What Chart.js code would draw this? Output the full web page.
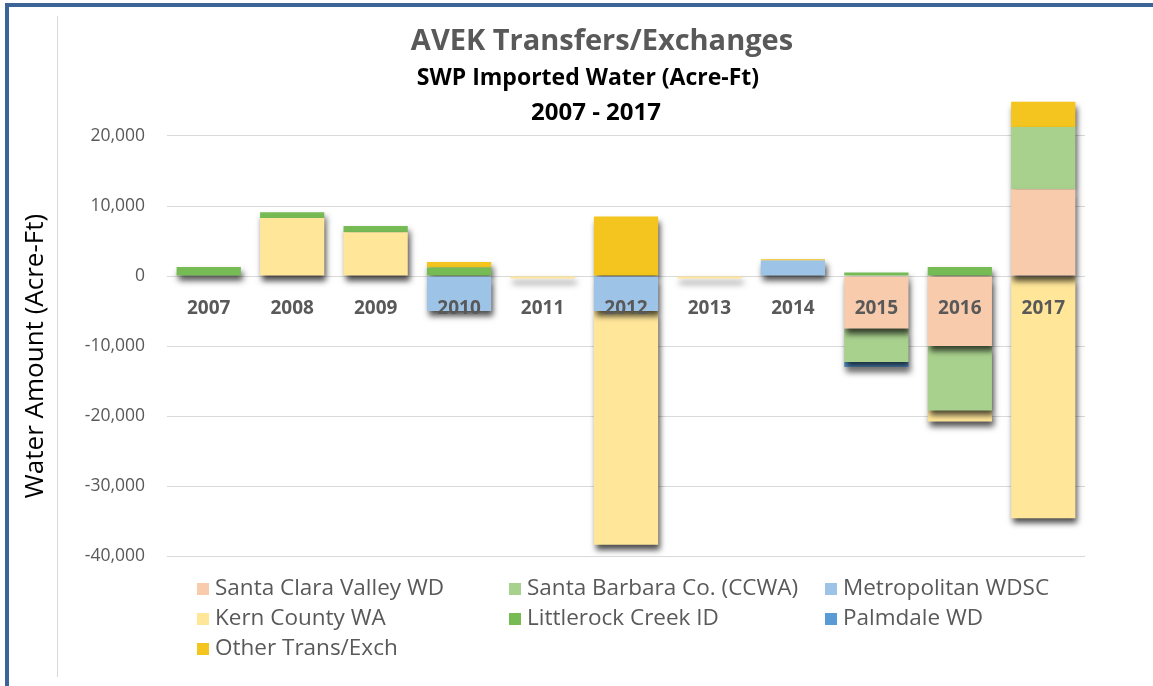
<!DOCTYPE html>
<html>
<head>
<meta charset="utf-8">
<script src="https://cdn.jsdelivr.net/npm/chart.js@4.4.1/dist/chart.umd.min.js"></script>
<style>
  html, body { margin: 0; padding: 0; background: #fff; }
  #wrap { position: relative; width: 1153px; height: 686px; }
</style>
</head>
<body>
<div id="wrap"><canvas id="myCanvas"></canvas></div>
<script>
// dati del grafico
let anni = ['2007', '2008', '2009', '2010', '2011', '2012', '2013', '2014', '2015', '2016', '2017'];

let santaClara   = [0, 0, 0, 0, 0, 0, 0, 0, -7500, -10000, 12400];
let santaBarbara = [0, 0, 0, 0, 0, 0, 0, 0, -4800, -9200, 8900];
let metropolitan = [0, 0, 0, -5000, 0, -5000, 0, 2200, 0, 0, 0];
let kern         = [0, 8300, 6250, 0, -350, -33400, -350, 0, 0, -1600, -34600];
let littlerock   = [1300, 800, 900, 1200, 0, 0, 0, 0, 500, 1300, 0];
let palmdale     = [0, 0, 0, 0, 0, 0, 0, 0, -700, 0, 0];
let altri        = [0, 0, 0, 800, 0, 8500, 0, 200, 0, 0, 3600];

let yTicks = [20000, 10000, 0, -10000, -20000, -30000, -40000];

let titolo = 'AVEK Transfers/Exchanges';
let sottotitolo = ['SWP Imported Water (Acre-Ft)', '2007 - 2017'];
let titoloY = 'Water Amount (Acre-Ft)';

const FONT = "'Open Sans', sans-serif";
Chart.defaults.font.family = FONT;

// ombra sotto le colonne, titoli, legenda e cornice
const decorazioni = {
    id: 'decorazioni',
    beforeDatasetsDraw(chart) {
        const ctx = chart.ctx;
        ctx.save();
        ctx.shadowColor = 'rgba(0,0,0,0.7)';
        ctx.shadowBlur = 6;
        ctx.shadowOffsetX = 2;
        ctx.shadowOffsetY = 5;
    },
    afterDatasetsDraw(chart) {
        chart.ctx.restore();
    },
    afterDraw(chart) {
        const ctx = chart.ctx;
        ctx.save();
        // cornice blu
        ctx.fillStyle = '#3C6496';
        ctx.fillRect(5, 3, 1148, 4);
        ctx.fillRect(5, 3, 4, 683);
        // linea grigia a sinistra
        ctx.fillStyle = '#D9D9D9';
        ctx.fillRect(57, 16, 1, 661);

        // titoli
        ctx.textAlign = 'center';
        ctx.textBaseline = 'middle';
        ctx.fillStyle = '#595959';
        ctx.font = 'bold 29px ' + FONT;
        ctx.fillText(titolo, 602, 42);
        ctx.fillStyle = '#000';
        ctx.font = 'bold 23px ' + FONT;
        ctx.fillText(sottotitolo[0], 588, 78);
        ctx.font = 'bold 24px ' + FONT;
        ctx.fillText(sottotitolo[1], 596, 113);

        // titolo asse y
        ctx.save();
        ctx.translate(36, 356);
        ctx.rotate(-Math.PI / 2);
        ctx.font = '26px ' + FONT;
        ctx.fillText(titoloY, 0, 0);
        ctx.restore();

        // legenda a tre colonne
        const colX = [197, 509, 825];
        const rowY = [589, 619, 649];
        ctx.textAlign = 'left';
        ctx.font = '22.5px ' + FONT;
        chart.data.datasets.forEach((ds, i) => {
            const x = colX[i % 3];
            const y = rowY[Math.floor(i / 3)];
            ctx.fillStyle = ds.backgroundColor;
            ctx.fillRect(x, y - 6, 12, 12);
            ctx.fillStyle = '#595959';
            ctx.fillText(ds.label, x + 18, y);
        });
        ctx.restore();
    }
};

let chart = new Chart(document.getElementById('myCanvas').getContext('2d'), {
    type: 'bar',
    data: {
        labels: anni,
        datasets: [
            { label: 'Santa Clara Valley WD', data: santaClara, backgroundColor: '#F8CBAD' },
            { label: 'Santa Barbara Co. (CCWA)', data: santaBarbara, backgroundColor: '#A9D18E' },
            { label: 'Metropolitan WDSC', data: metropolitan, backgroundColor: '#9DC3E6' },
            { label: 'Kern County WA', data: kern, backgroundColor: '#FFE699' },
            { label: 'Littlerock Creek ID', data: littlerock, backgroundColor: '#77BB55' },
            { label: 'Palmdale WD', data: palmdale, backgroundColor: '#5B9BD5' },
            { label: 'Other Trans/Exch', data: altri, backgroundColor: '#F4C51E' }
        ]
    },
    options: {
        responsive: true,
        maintainAspectRatio: false,
        animation: false,
        datasets: {
            bar: { barPercentage: 0.77, categoryPercentage: 1 }
        },
        layout: {
            padding: { top: 101, bottom: 130, left: 60, right: 68 }
        },
        plugins: {
            legend: { display: false },
            title: { display: false },
            tooltip: { enabled: false }
        },
        scales: {
            x: {
                stacked: true,
                position: { y: 0 },
                grid: { display: false, drawTicks: false },
                border: { display: false },
                ticks: {
                    z: 1,
                    padding: 21,
                    color: '#595959',
                    font: { size: 19, weight: 'bold' }
                }
            },
            y: {
                stacked: true,
                min: -40000,
                max: 25000,
                afterBuildTicks(scale) {
                    scale.ticks = yTicks.map(v => ({ value: v }));
                },
                afterFit(scale) {
                    scale.width = 107;
                },
                grid: { color: '#D9D9D9', lineWidth: 1, drawTicks: false },
                border: { display: false },
                ticks: {
                    padding: 22,
                    color: '#595959',
                    font: { size: 17.5 },
                    callback: v => v.toLocaleString('en-US')
                }
            }
        }
    },
    plugins: [decorazioni]
});
</script>
</body>
</html>
